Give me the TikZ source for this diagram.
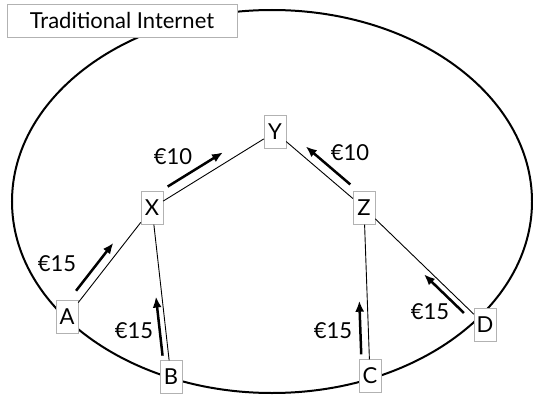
\documentclass[tikz,border=0pt]{standalone}
\usepackage{fontspec}
\setmainfont{Lato}
\usepackage{tikz}
\usetikzlibrary{arrows.meta,calc}

\begin{document}
\begin{tikzpicture}[
  x=1pt, y=-1pt,
  router/.style={draw=gray!60, fill=white, minimum width=22pt, minimum height=33pt, inner sep=1pt, font=\fontsize{22}{26}\selectfont},
  link/.style={line width=0.9pt},
  pay/.style={-{Latex[length=11pt, width=9pt]}, line width=2.5pt},
  price/.style={font=\fontsize{22}{26}\selectfont}
]
  \useasboundingbox (0,0) rectangle (533,396);

  % the internet cloud
  \draw[line width=2pt] (272,201.5) ellipse [x radius=260, y radius=191.5];
  \node[router, minimum width=230pt] (title) at (122,20.5) {Traditional Internet};

  % routers
  \node[router] (Y) at (275,132) {Y};
  \node[router] (X) at (152,208) {X};
  \node[router] (Z) at (364,208) {Z};
  \node[router] (A) at (67,317) {A};
  \node[router] (B) at (171,377) {B};
  \node[router] (C) at (370,376) {C};
  \node[router] (D) at (485,325) {D};

  \draw[link] (A) -- (X);
  \draw[link] (B) -- (X);
  \draw[link] (X) -- (Y);
  \draw[link] (Y) -- (Z);
  \draw[link] (C) -- (Z);
  \draw[link] (D) -- (Z);

  % payments
  \draw[pay] ($(A)!0.19!(X)!9pt!90:(X)$) -- ($(A)!0.63!(X)!9pt!90:(X)$);
  \draw[pay] ($(B)!0.13!(X)!6pt!90:(X)$) -- ($(B)!0.48!(X)!6pt!90:(X)$);
  \draw[pay] ($(X)!0.17!(Y)!10pt!90:(Y)$) -- ($(X)!0.62!(Y)!10pt!90:(Y)$);
  \draw[pay] ($(Z)!0.22!(Y)!9pt!-90:(Y)$) -- ($(Z)!0.72!(Y)!9pt!-90:(Y)$);
  \draw[pay] ($(C)!0.13!(Z)!8pt!90:(Z)$) -- ($(C)!0.45!(Z)!8pt!90:(Z)$);
  \draw[pay] ($(D)!0.14!(Z)!6pt!90:(Z)$) -- ($(D)!0.47!(Z)!6pt!90:(Z)$);

  \node[price] (pA) at (57,264) {€15};
  \node[price] (pB) at (134,331) {€15};
  \node[price] (pX) at (173,157) {€10};
  \node[price] (pZ) at (350,153) {€10};
  \node[price] (pC) at (333,331) {€15};
  \node[price] (pD) at (430,312) {€15};
\end{tikzpicture}
\end{document}
